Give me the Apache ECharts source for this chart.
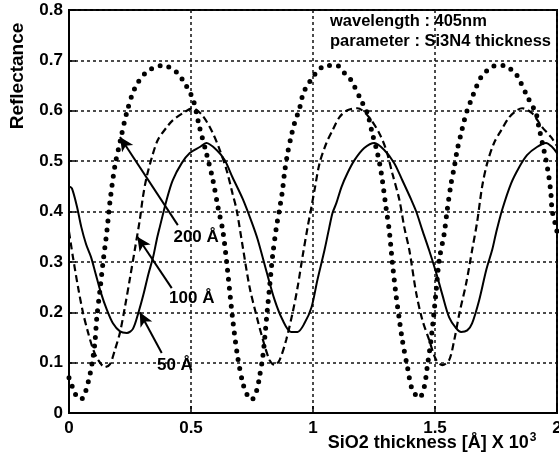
<!DOCTYPE html>
<html>
<head>
<meta charset="utf-8">
<script src="https://cdn.jsdelivr.net/npm/echarts@6/dist/echarts.min.js"></script>
<style>
  html, body { margin: 0; padding: 0; background: #fff; }
  #main { width: 559px; height: 459px; }
</style>
</head>
<body>
<div id="main"></div>
<script>
// curves: [SiO2 thickness (x10^3 A), reflectance]
var curve200 = [
  [0,0.07],[0.02,0.045],[0.04,0.028],[0.057,0.03],[0.078,0.06],[0.094,0.097],[0.106,0.139],
  [0.114,0.19],[0.127,0.244],[0.139,0.297],[0.155,0.36],[0.168,0.42],[0.188,0.49],[0.21,0.54],
  [0.236,0.595],[0.27,0.645],[0.318,0.677],[0.385,0.69],[0.44,0.677],[0.48,0.65],[0.51,0.62],
  [0.535,0.567],[0.563,0.516],[0.59,0.462],[0.61,0.41],[0.63,0.363],[0.646,0.3],[0.67,0.19],
  [0.69,0.115],[0.712,0.06],[0.73,0.036],[0.748,0.026],[0.77,0.046],[0.78,0.07],[0.795,0.115],
  [0.81,0.19],[0.822,0.25],[0.834,0.31],[0.85,0.369],[0.863,0.405],[0.875,0.442],[0.883,0.476],
  [0.896,0.516],[0.91,0.548],[0.924,0.575],[0.945,0.605],[0.96,0.635],[0.978,0.651],[1.0,0.667],
  [1.02,0.68],[1.055,0.69],[1.096,0.69],[1.137,0.67],[1.157,0.66],[1.198,0.62],[1.223,0.595],
  [1.243,0.555],[1.264,0.516],[1.28,0.476],[1.30,0.405],[1.313,0.36],[1.325,0.3],[1.34,0.235],
  [1.354,0.185],[1.366,0.145],[1.387,0.091],[1.407,0.046],[1.436,0.03],[1.456,0.052],[1.468,0.091],
  [1.485,0.15],[1.505,0.244],[1.517,0.303],[1.538,0.357],[1.55,0.403],[1.566,0.456],[1.579,0.488],
  [1.591,0.522],[1.607,0.555],[1.62,0.581],[1.632,0.601],[1.648,0.621],[1.669,0.647],[1.689,0.667],
  [1.714,0.68],[1.75,0.69],[1.783,0.69],[1.816,0.68],[1.836,0.67],[1.886,0.621],[1.914,0.595],
  [1.926,0.567],[1.94,0.536],[1.955,0.502],[1.967,0.468],[1.975,0.436],[1.98,0.403],[1.996,0.369],
  [2.0,0.36]
];
var curve100 = [
  [0,0.36],[0.016,0.31],[0.037,0.25],[0.057,0.2],[0.078,0.16],[0.1,0.125],[0.12,0.105],[0.147,0.091],
  [0.168,0.097],[0.188,0.125],[0.209,0.16],[0.229,0.21],[0.25,0.268],[0.27,0.325],[0.29,0.383],
  [0.303,0.429],[0.318,0.468],[0.34,0.508],[0.364,0.542],[0.40,0.567],[0.425,0.581],[0.466,0.595],
  [0.507,0.605],[0.548,0.59],[0.59,0.555],[0.618,0.522],[0.646,0.482],[0.67,0.436],[0.687,0.403],
  [0.712,0.33],[0.74,0.25],[0.77,0.19],[0.795,0.145],[0.822,0.105],[0.843,0.095],[0.863,0.105],
  [0.89,0.145],[0.916,0.198],[0.937,0.25],[0.957,0.31],[0.978,0.369],[0.994,0.41],[1.006,0.442],
  [1.027,0.496],[1.055,0.536],[1.08,0.561],[1.108,0.587],[1.141,0.601],[1.182,0.605],[1.23,0.587],
  [1.272,0.555],[1.30,0.522],[1.325,0.476],[1.354,0.423],[1.374,0.369],[1.395,0.323],[1.423,0.238],
  [1.448,0.185],[1.476,0.145],[1.505,0.105],[1.53,0.095],[1.558,0.105],[1.579,0.145],[1.6,0.198],
  [1.628,0.258],[1.652,0.323],[1.673,0.38],[1.693,0.449],[1.714,0.496],[1.742,0.536],[1.771,0.561],
  [1.804,0.587],[1.836,0.601],[1.857,0.605],[1.898,0.595],[1.94,0.567],[1.975,0.548],[2.0,0.53]
];
var curve50 = [
  [0,0.45],[0.012,0.446],[0.033,0.409],[0.05,0.37],[0.07,0.335],[0.09,0.31],[0.11,0.275],[0.13,0.24],
  [0.155,0.205],[0.18,0.178],[0.209,0.162],[0.237,0.159],[0.262,0.167],[0.285,0.2],[0.305,0.235],
  [0.325,0.275],[0.345,0.31],[0.36,0.345],[0.372,0.369],[0.40,0.423],[0.425,0.462],[0.462,0.496],
  [0.495,0.516],[0.536,0.528],[0.563,0.536],[0.605,0.522],[0.638,0.502],[0.67,0.468],[0.712,0.425],
  [0.748,0.38],[0.773,0.345],[0.81,0.28],[0.843,0.224],[0.875,0.185],[0.91,0.161],[0.937,0.161],
  [0.965,0.178],[0.994,0.21],[1.018,0.264],[1.047,0.323],[1.067,0.369],[1.08,0.397],[1.096,0.417],
  [1.117,0.449],[1.141,0.476],[1.17,0.502],[1.21,0.526],[1.252,0.536],[1.292,0.522],[1.333,0.496],
  [1.366,0.462],[1.403,0.423],[1.423,0.4],[1.448,0.363],[1.476,0.323],[1.505,0.278],[1.53,0.235],
  [1.558,0.19],[1.587,0.168],[1.607,0.161],[1.632,0.164],[1.652,0.178],[1.681,0.224],[1.71,0.284],
  [1.735,0.325],[1.75,0.357],[1.775,0.403],[1.812,0.456],[1.845,0.488],[1.877,0.512],[1.918,0.528],
  [1.955,0.536],[1.98,0.528],[2.0,0.516]
];

// annotations: label text, label centre, arrow tail, arrow tip
var annText = ['200 Å', '100 Å', '50 Å'];
var annLabelAt = [[0.521, 0.349], [0.503, 0.228], [0.434, 0.095]];
var annTail = [[0.446, 0.373], [0.421, 0.248], [0.38, 0.119]];
var annTip = [[0.209, 0.548], [0.28, 0.35], [0.29, 0.2]];

var xTicks = ['0', '0.5', '1', '1.5', '2'];
var yTicks = ['0', '0.1', '0.2', '0.3', '0.4', '0.5', '0.6', '0.7', '0.8'];

var FONT = 'Liberation Sans';

var myChart = echarts.init(document.getElementById('main'));

var arrowData = annTail.map(function (p, i) {
  return [{ coord: p }, { coord: annTip[i] }];
});

var option = {
  animation: false,
  grid: {
    left: 69, right: 2, top: 10, bottom: 46,
    outerBoundsMode: 'none',
    show: true, borderColor: '#000', borderWidth: 2
  },
  xAxis: {
    type: 'value', min: 0, max: 2, interval: 0.5,
    axisLine: { show: true, lineStyle: { color: '#000', width: 2 } },
    axisTick: { show: true, inside: true, length: 7, lineStyle: { color: '#000', width: 1.5 } },
    axisLabel: {
      margin: 7, color: '#000', fontFamily: FONT, fontWeight: 'bold', fontSize: 17,
      formatter: function (v) { return xTicks[Math.round(v / 0.5)]; }
    },
    splitLine: { show: true, lineStyle: { color: '#111', width: 1.5, type: [3, 3] } }
  },
  yAxis: {
    type: 'value', min: 0, max: 0.8, interval: 0.1,
    axisLine: { show: true, lineStyle: { color: '#000', width: 2 } },
    axisTick: { show: true, inside: true, length: 7, lineStyle: { color: '#000', width: 1.5 } },
    axisLabel: {
      margin: 6, color: '#000', fontFamily: FONT, fontWeight: 'bold', fontSize: 17,
      formatter: function (v) { return yTicks[Math.round(v / 0.1)]; }
    },
    splitLine: { show: true, lineStyle: { color: '#111', width: 1.5, type: [3, 3] } }
  },
  graphic: [
    { type: 'text', x: 18, y: 76, rotation: Math.PI / 2,
      style: { text: 'Reflectance', align: 'center', verticalAlign: 'middle',
        font: 'bold 19px "' + FONT + '"', fill: '#000' } },
    { type: 'text', x: 432, y: 443,
      style: { text: '{a|SiO2 thickness [Å] X 10}{b|3}', align: 'center', verticalAlign: 'middle',
        fill: '#000',
        rich: {
          a: { fontFamily: FONT, fontWeight: 'bold', fontSize: 18, fill: '#000' },
          b: { fontFamily: FONT, fontWeight: 'bold', fontSize: 12, fill: '#000', verticalAlign: 'top', padding: [0, 0, 10, 1] }
        } } },
    { type: 'text', x: 330, y: 21,
      style: { text: 'wavelength : 405nm', verticalAlign: 'middle',
        font: 'bold 16.5px "' + FONT + '"', fill: '#000' } },
    { type: 'text', x: 330, y: 41,
      style: { text: 'parameter : Si3N4 thickness', verticalAlign: 'middle',
        font: 'bold 16.5px "' + FONT + '"', fill: '#000' } }
  ],
  series: [
    {
      name: '200 Å', type: 'line', data: curve200, showSymbol: false, smooth: 0.3,
      lineStyle: { color: '#000', width: 5, type: [0, 9], cap: 'round' },
      markLine: {
        silent: true, symbol: ['none', 'arrow'], symbolSize: [10, 14],
        label: { show: false },
        lineStyle: { color: '#000', width: 2, type: 'solid' },
        data: arrowData
      }
    },
    {
      name: '100 Å', type: 'line', data: curve100, showSymbol: false, smooth: 0.3,
      lineStyle: { color: '#000', width: 2.2, type: [7, 4] }
    },
    {
      name: '50 Å', type: 'line', data: curve50, showSymbol: false, smooth: 0.3,
      lineStyle: { color: '#000', width: 2 }
    }
  ]
};

myChart.setOption(option);

// annotation texts placed through the axes' own scale
var notes = option.graphic.slice();
annText.forEach(function (t, i) {
  var p = myChart.convertToPixel({ gridIndex: 0 }, annLabelAt[i]);
  notes.push({
    type: 'text', x: p[0], y: p[1],
    style: { text: t, align: 'center', verticalAlign: 'middle',
      font: 'bold 17px "' + FONT + '"', fill: '#000' }
  });
});
myChart.setOption({ graphic: notes }, { replaceMerge: ['graphic'] });
</script>
</body>
</html>
